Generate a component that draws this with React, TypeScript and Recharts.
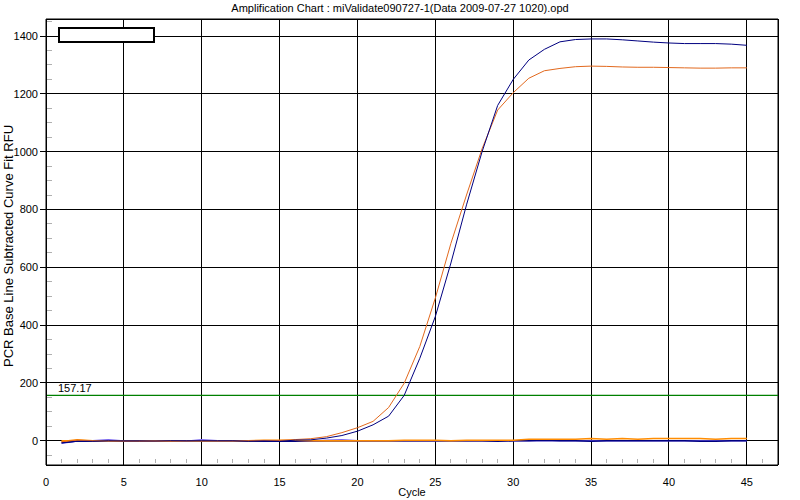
import {
  LineChart,
  Line,
  XAxis,
  YAxis,
  CartesianGrid,
  ReferenceLine,
  ReferenceArea,
  Legend,
  Label,
} from "recharts";

const cycles = [
  1, 2, 3, 4, 5, 6, 7, 8, 9, 10, 11, 12, 13, 14, 15, 16, 17, 18, 19, 20, 21, 22,
  23, 24, 25, 26, 27, 28, 29, 30, 31, 32, 33, 34, 35, 36, 37, 38, 39, 40, 41,
  42, 43, 44, 45,
];

// amplified wells
const wellBlue = [
  -8, -2, -2, 0, -1, -1, -1, 0, 0, 0, 0, 0, -2, -1, -2, 2, 3, 9, 18, 33, 55, 85,
  157, 285, 430, 615, 816, 1000, 1160, 1250, 1317, 1354, 1380, 1388, 1390, 1390,
  1387, 1383, 1379, 1376, 1374, 1374, 1374, 1372, 1368,
];
const wellOrange = [
  -4, 2, 0, 0, -2, -2, -1, -1, 0, 0, 0, 0, 0, 1, 1, 4, 7, 14, 28, 45, 67, 115,
  199, 326, 494, 683, 850, 1010, 1144, 1204, 1254, 1280, 1288, 1294, 1296, 1295,
  1293, 1292, 1292, 1291, 1290, 1289, 1289, 1290, 1290,
];

// negative wells
const negOrangeA = [
  -3, 3, 0, 0, -2, -2, 0, -1, 0, 0, 0, 0, 0, 2, 2, 2, 0, 0, 0, 0, 0, 0, 2, 2, 2,
  0, 2, 2, 2, 2, 5, 5, 5, 5, 8, 5, 8, 5, 8, 8, 8, 8, 5, 8, 8,
];
const negOrangeB = [
  0, 0, 0, 0, 0, 0, 0, 0, 0, 0, 0, 0, 0, 0, 0, 0, 0, 0, 0, 0, 0, 0, 0, 0, 0, 0,
  0, 0, 0, 0, null, null, null, null, null, null, null, null, null, null, null,
  null, null, null, null,
];
const negSlate = [
  -9, -1, 0, 3, -1, -2, -2, -1, -2, 3, 0, 0, 0, 0, 0, 0, -2, 2, 3, 0, 0, 0, 0, 0,
  0, 0, 0, 0, 0, 0, 0, 0, 0, 0, 0, 0, 0, 0, 0, 0, 0, 0, 0, 0, 0,
];
const negNavy = [
  -6, -1, -2, 0, 0, 0, 0, 0, 0, 0, 0, 0, -2, -2, -2, -2, 0, 0, 0, 0, 0, 0, 0, 0,
  0, 0, 0, 0, -2, 0, 0, 2, 0, 0, -2, 0, 0, 0, 0, 0, 0, -2, -2, 0, 0,
];

const threshold = 157.17;

const xTicks = [0, 5, 10, 15, 20, 25, 30, 35, 40, 45];
const yTicks = [0, 200, 400, 600, 800, 1000, 1200, 1400];
const minorXTicks = [
  1, 2, 3, 4, 6, 7, 8, 9, 11, 12, 13, 14, 16, 17, 18, 19, 21, 22, 23, 24, 26, 27,
  28, 29, 31, 32, 33, 34, 36, 37, 38, 39, 41, 42, 43, 44, 46,
];
const minorYTicks = [
  -50, 50, 100, 150, 250, 300, 350, 450, 500, 550, 650, 700, 750, 850, 900, 950,
  1050, 1100, 1150, 1250, 1300, 1350, 1450,
];

const X_MAX = 47;
const Y_MIN = -84;
const Y_MAX = 1459;

const data = cycles.map((c, i) => ({
  cycle: c,
  blue: wellBlue[i],
  orange: wellOrange[i],
  negA: negOrangeA[i],
  negB: negOrangeB[i],
  slate: negSlate[i],
  navy: negNavy[i],
}));

const FONT = "'Liberation Sans', Arial, sans-serif";

const YTitle = (props: any) => {
  const vb = props.viewBox;
  const cy = vb.y + vb.height / 2 + 4;
  return (
    <text
      transform={`translate(13,${cy}) rotate(-90)`}
      textAnchor="middle"
      fontSize={13}
      fontFamily={FONT}
      fill="#000"
    >
      PCR Base Line Subtracted Curve Fit RFU
    </text>
  );
};

const ThresholdLabel = (props: any) => {
  const vb = props.viewBox;
  return (
    <text x={vb.x + 12} y={vb.y - 3} fontSize={11} fontFamily={FONT} fill="#000">
      {threshold}
    </text>
  );
};

const EmptyLegend = () => (
  <div
    style={{
      width: 97,
      height: 16,
      boxSizing: "border-box",
      border: "2px solid #000",
      background: "#fff",
    }}
  />
);

const crisp = `
.recharts-cartesian-grid line,
.minor-tick line,
.recharts-reference-area rect,
.recharts-cartesian-axis-line,
.recharts-cartesian-axis-tick-line { shape-rendering: crispEdges; }
`;

export default function App() {
  return (
    <div style={{ position: "absolute", left: 0, top: 0, width: 800, height: 500, fontFamily: FONT }}>
      <style>{crisp}</style>
      <div
        style={{
          position: "absolute",
          top: 1,
          left: 0,
          width: 800,
          textAlign: "center",
          fontSize: 11,
          lineHeight: "14px",
          color: "#000",
        }}
      >
        Amplification Chart : miValidate090727-1(Data 2009-07-27 1020).opd
      </div>
      <LineChart
        width={800}
        height={500}
        data={data}
        margin={{ top: 19, right: 22, bottom: 0, left: 0 }}
      >
        <CartesianGrid stroke="#000" strokeWidth={1} />
        <XAxis
          dataKey="cycle"
          type="number"
          domain={[0, X_MAX]}
          ticks={xTicks}
          height={35}
          axisLine={{ stroke: "#000" }}
          tickLine={false}
          tickMargin={7}
          tick={{ fill: "#000", fontSize: 11, fontFamily: FONT }}
          allowDataOverflow
        >
          <Label
            value="Cycle"
            position="insideBottom"
            offset={4}
            fill="#000"
            fontSize={11}
            fontFamily={FONT}
          />
        </XAxis>
        <YAxis
          type="number"
          domain={[Y_MIN, Y_MAX]}
          ticks={yTicks}
          width={46}
          axisLine={{ stroke: "#000" }}
          tickLine={{ stroke: "#000" }}
          tickSize={6}
          tickMargin={2}
          tick={{ fill: "#000", fontSize: 11, fontFamily: FONT }}
          allowDataOverflow
        >
          <Label content={YTitle} />
        </YAxis>
        {minorXTicks.map((t) => (
          <ReferenceLine
            key={"mx" + t}
            className="minor-tick"
            segment={[
              { x: t, y: -78 },
              { x: t, y: -62 },
            ]}
            stroke="#b0b0b0"
          />
        ))}
        {minorYTicks.map((t) => (
          <ReferenceLine
            key={"my" + t}
            className="minor-tick"
            segment={[
              { x: 0, y: t },
              { x: 0.4, y: t },
            ]}
            stroke="#b0b0b0"
          />
        ))}
        <ReferenceArea
          x1={0}
          x2={X_MAX}
          y1={Y_MIN}
          y2={Y_MAX}
          fill="none"
          stroke="#000"
          strokeWidth={1}
        />
        <ReferenceLine y={threshold} stroke="#008000" strokeWidth={1.2}>
          <Label content={ThresholdLabel} />
        </ReferenceLine>
        <Line dataKey="negB" stroke="#ff8c00" strokeWidth={1.5} dot={false} activeDot={false} isAnimationActive={false} />
        <Line dataKey="slate" stroke="#7b68ee" strokeWidth={1.5} dot={false} activeDot={false} isAnimationActive={false} />
        <Line dataKey="navy" stroke="#000080" strokeWidth={1.5} dot={false} activeDot={false} isAnimationActive={false} />
        <Line dataKey="negA" stroke="#ff8c00" strokeWidth={1.5} dot={false} activeDot={false} isAnimationActive={false} />
        <Line dataKey="orange" stroke="#e2691e" strokeWidth={1} dot={false} activeDot={false} isAnimationActive={false} />
        <Line dataKey="blue" stroke="#000080" strokeWidth={1} dot={false} activeDot={false} isAnimationActive={false} />
        <Legend
          layout="horizontal"
          verticalAlign="middle"
          align="center"
          content={EmptyLegend}
          wrapperStyle={{ left: 58, top: 27, width: 97, height: 16 }}
        />
      </LineChart>
    </div>
  );
}
